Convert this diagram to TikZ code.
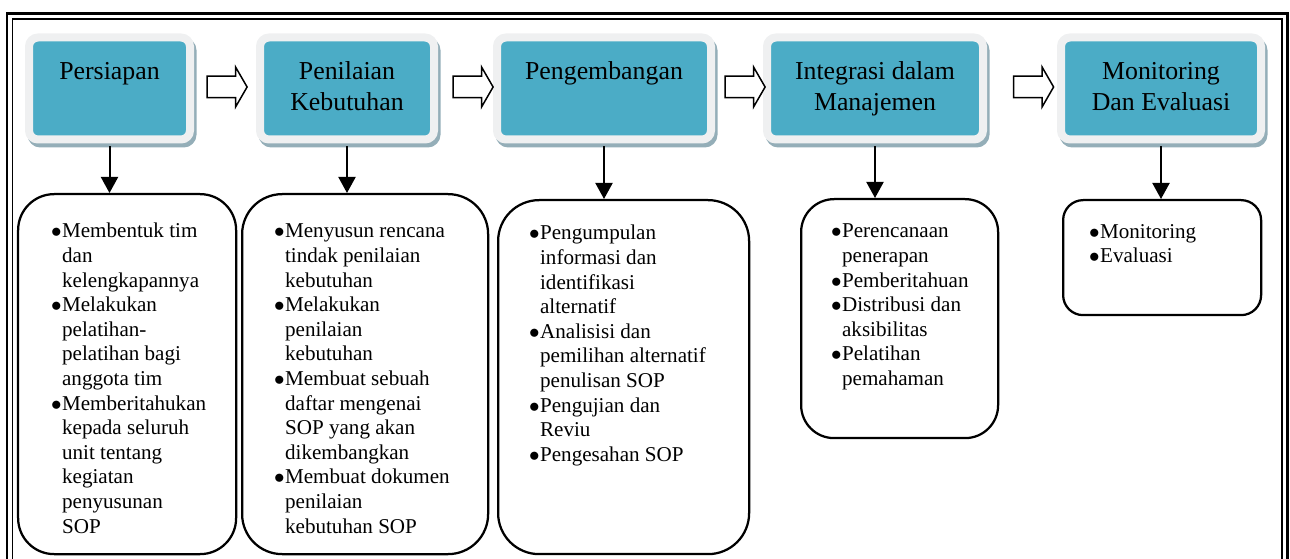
\documentclass[tikz,border=0pt]{standalone}
\usepackage{fontspec}
\setmainfont{Liberation Serif}
\usetikzlibrary{arrows.meta,positioning,shapes.arrows,shadows}

\definecolor{tealc}{HTML}{4BACC6}
\definecolor{framec}{HTML}{EFF0F1}
\definecolor{shadowc}{HTML}{94AEB8}

\newcommand{\bul}{\makebox[0.22cm][l]{$\bullet$}}
\newcommand{\ind}{\hspace*{0.22cm}}
\newcommand{\stagetext}[2]{\parbox[t][1.22cm][t]{#1}{\centering\strut #2}}
\newcommand{\itemtext}[3]{\parbox[t][#2][t]{#1}{\strut #3}}

\begin{document}
\begin{tikzpicture}[
  stage/.style={
    fill=tealc,
    draw=framec,
    line width=0.16cm,
    rounded corners=0.18cm,
    inner xsep=0.2cm,
    inner ysep=0.41cm,
    font=\fontsize{14.7}{17.5}\selectfont,
    drop shadow={shadow xshift=0.05cm, shadow yshift=-0.08cm,
      fill=shadowc, draw=shadowc, line width=0.16cm, opacity=1}
  },
  items/.style={
    draw,
    line width=0.045cm,
    anchor=north west,
    font=\fontsize{12}{14}\selectfont
  },
  nextarrow/.style={
    draw,
    fill=white,
    line width=0.03cm,
    single arrow,
    single arrow head extend=0.18cm,
    single arrow tip angle=120,
    minimum height=0.8cm,
    inner xsep=0pt,
    inner ysep=0.2cm
  },
  downarrow/.style={-{Triangle[width=0.34cm,length=0.32cm]}, line width=0.04cm}
]
\useasboundingbox (0,0) rectangle (25.8,-11.18);

% Double frame
\draw[line width=0.06cm] (0.14,-0.27) rectangle (25.74,-11.6);
\draw[line width=0.04cm] (0.25,-0.38) rectangle (25.64,-11.6);

% Stages
\node[stage] (prep) at (2.19,-1.77) {\stagetext{2.82cm}{Persiapan}};
\node[stage] (need) at (6.94,-1.77) {\stagetext{3.08cm}{Penilaian\\Kebutuhan}};
\node[stage] (dev) at (12.08,-1.77) {\stagetext{3.88cm}{Pengembangan}};
\node[stage] (integ) at (17.5,-1.77) {\stagetext{3.92cm}{Integrasi dalam\\Manajemen}};
\node[stage] (monev) at (23.22,-1.77) {\stagetext{3.6cm}{Monitoring\\Dan Evaluasi}};

% Block arrows between stages
\node[nextarrow] (toNeed) at (4.48,-1.74) {};
\node[nextarrow] (toDev) at (9.4,-1.74) {};
\node[nextarrow] (toInteg) at (14.84,-1.74) {};
\node[nextarrow] (toMonev) at (20.61,-1.74) {};

% Activity lists
\node[items, rounded corners=0.72cm, inner xsep=0.66cm, inner ysep=0.53cm] (prepList) at (0.34,-3.86) {%
  \itemtext{3.04cm}{6.14cm}{%
  \bul Membentuk tim\\
  \ind dan\\
  \ind kelengkapannya\\
  \bul Melakukan\\
  \ind pelatihan-\\
  \ind pelatihan bagi\\
  \ind anggota tim\\
  \bul Memberitahukan\\
  \ind kepada seluruh\\
  \ind unit tentang\\
  \ind kegiatan\\
  \ind penyusunan\\
  \ind SOP}};

\node[items, rounded corners=0.8cm, inner xsep=0.64cm, inner ysep=0.53cm] (needList) at (4.82,-3.86) {%
  \itemtext{3.64cm}{6.14cm}{%
  \bul Menyusun rencana\\
  \ind tindak penilaian\\
  \ind kebutuhan\\
  \bul Melakukan\\
  \ind penilaian\\
  \ind kebutuhan\\
  \bul Membuat sebuah\\
  \ind daftar mengenai\\
  \ind SOP yang akan\\
  \ind dikembangkan\\
  \bul Membuat dokumen\\
  \ind penilaian\\
  \ind kebutuhan SOP}};

\node[items, rounded corners=0.82cm, inner xsep=0.62cm, inner ysep=0.45cm] (devList) at (9.94,-3.98) {%
  \itemtext{3.78cm}{6.18cm}{%
  \bul Pengumpulan\\
  \ind informasi dan\\
  \ind identifikasi\\
  \ind alternatif\\
  \bul Analisisi dan\\
  \ind pemilihan alternatif\\
  \ind penulisan SOP\\
  \bul Pengujian dan\\
  \ind Reviu\\
  \bul Pengesahan SOP}};

\node[items, rounded corners=0.66cm, inner xsep=0.6cm, inner ysep=0.43cm] (integList) at (16.0,-3.96) {%
  \itemtext{2.74cm}{3.92cm}{%
  \bul Perencanaan\\
  \ind penerapan\\
  \bul Pemberitahuan\\
  \bul Distribusi dan\\
  \ind aksibilitas\\
  \bul Pelatihan\\
  \ind pemahaman}};

\node[items, rounded corners=0.4cm, inner xsep=0.52cm, inner ysep=0.42cm] (monevList) at (21.24,-3.98) {%
  \itemtext{2.92cm}{1.46cm}{%
  \bul Monitoring\\
  \bul Evaluasi}};

% Stage to list arrows
\draw[downarrow] ([yshift=-0.06cm]prep.south) -- (prep.south |- prepList.north);
\draw[downarrow] ([yshift=-0.06cm]need.south) -- (need.south |- needList.north);
\draw[downarrow] ([yshift=-0.06cm]dev.south) -- (dev.south |- devList.north);
\draw[downarrow] ([yshift=-0.06cm]integ.south) -- (integ.south |- integList.north);
\draw[downarrow] ([yshift=-0.06cm]monev.south) -- (monev.south |- monevList.north);

\end{tikzpicture}
\end{document}
